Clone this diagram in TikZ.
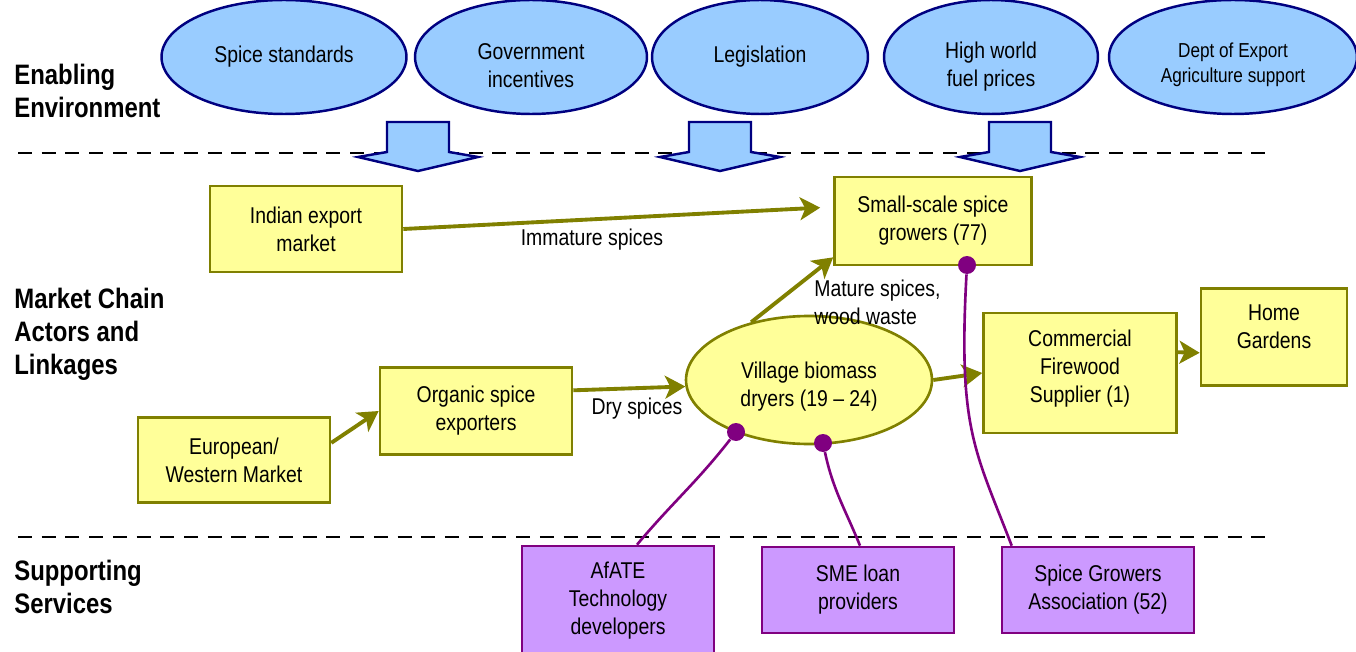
\documentclass[tikz,border=0pt]{standalone}
\usepackage{fontspec}
\setmainfont{Liberation Sans}[FakeStretch=0.85]
\usetikzlibrary{shapes.geometric, arrows.meta, positioning, calc}
\definecolor{envblue}{HTML}{99CCFF}
\definecolor{envnavy}{HTML}{000080}
\definecolor{actyellow}{HTML}{FFFF99}
\definecolor{actolive}{HTML}{808000}
\definecolor{svcpurple}{HTML}{CC99FF}
\definecolor{svcline}{HTML}{800080}
\newcommand{\shiftedlines}[2]{\raisebox{#1}[\height][\depth]{\begin{tabular}{@{}c@{}}#2\end{tabular}}}

\begin{document}
\begin{tikzpicture}[
    x=0.02cm, y=-0.02cm,
    font=\fontsize{13}{15.9}\selectfont,
    env/.style={ellipse, draw=envnavy, line width=1.4pt, fill=envblue, minimum height=2.28cm, inner sep=0pt, align=center},
    actor/.style={rectangle, draw=actolive, line width=1.5pt, fill=actyellow, minimum width=3.84cm, minimum height=1.72cm, align=center},
    service/.style={rectangle, draw=svcline, line width=1.5pt, fill=svcpurple, minimum width=3.84cm, minimum height=1.72cm, align=center},
    tier/.style={font=\fontsize{16}{18.7}\selectfont\bfseries, align=left, anchor=west, inner sep=0pt},
    flow/.style={draw=actolive, line width=2.2pt, -{Stealth[length=11.5pt, width=13pt, inset=3pt]}},
    link/.style={draw=svcline, line width=1.5pt},
    dot/.style={circle, fill=svcline, minimum size=0.36cm, inner sep=0pt},
    downarrow/.style={draw=envnavy, line width=1.4pt, fill=envblue, line join=miter},
    divider/.style={dash pattern=on 8pt off 5.5pt, line width=1.5pt}
]
    \useasboundingbox (0,0) rectangle (1356,652);

    \draw [divider] (18,153) -- (1268,153);
    \draw [divider] (18,537) -- (1268,537);

    \foreach \cx in {418,720,1020}
        \draw [downarrow] (\cx-31,122) -- (\cx+31,122) -- (\cx+31,152) -- (\cx+60,157)
            -- (\cx,171) -- (\cx-60,157) -- (\cx-31,152) -- cycle;

    \node [tier] (enabling) at (14,91) {Enabling\\Environment};
    \node [tier] (market) at (14,334) {Market Chain\\Actors and\\Linkages};
    \node [tier] (supporting) at (14,587) {Supporting\\Services};

    \node [env, minimum width=4.9cm] (standards) at (284,57) {Spice standards};
    \node [env, minimum width=4.64cm] (incentives) at (531,57) {\shiftedlines{-0.22cm}{Government\\incentives}};
    \node [env, minimum width=4.32cm] (legislation) at (760,57) {Legislation};
    \node [env, minimum width=4.28cm] (fuel) at (991,57) {\shiftedlines{-0.2cm}{High world\\fuel prices}};
    \node [env, minimum width=4.96cm, font=\fontsize{11.5}{14.2}\selectfont] (dept) at (1233,57) {\shiftedlines{-0.16cm}{Dept of Export\\Agriculture support}};

    \node [actor] (indian) at (306,229) {Indian export\\market};
    \node [actor, minimum width=3.94cm, minimum height=1.76cm] (growers) at (933,221) {Small-scale spice\\growers (77)};
    \node [actor, minimum height=1.74cm] (organic) at (476,411) {Organic spice\\exporters};
    \node [actor, minimum height=1.7cm] (european) at (234,460) {European/\\Western Market};
    \node [ellipse, draw=actolive, line width=1.5pt, fill=actyellow, minimum width=4.92cm, minimum height=2.56cm, align=center, inner sep=0pt] (village) at (809,380) {\shiftedlines{-0.14cm}{Village biomass\\dryers (19 -- 24)}};
    \node [actor, minimum width=3.86cm, minimum height=2.4cm] (firewood) at (1080,373) {\shiftedlines{0.08cm}{Commercial\\Firewood\\Supplier (1)}};
    \node [actor, minimum width=2.92cm, minimum height=1.94cm] (gardens) at (1274,337) {\shiftedlines{0.16cm}{Home\\Gardens}};

    \node [service, minimum height=2.2cm] (afate) at (618,601) {AfATE\\Technology\\developers};
    \node [service] (sme) at (858,590) {SME loan\\providers};
    \node [service] (sga) at (1098,590) {Spice Growers\\Association (52)};

    \draw [flow, shorten >=0.26cm] (indian.east) -- (growers.172);
    \draw [flow] (village.135) -- (growers.200);
    \draw [flow] (european.10) -- (organic.west);
    \draw [flow] (organic.12) -- (village.183);
    \draw [flow] (village.east) -- (firewood.west);
    \draw [flow] (firewood.12) -- (gardens.192);

    \node (immature) at (592,240) {Immature spices};
    \node [anchor=west, inner sep=0pt, align=left] (mature) at (814,302) {Mature spices,\\wood waste};
    \node (dry) at (637,409) {Dry spices};

    \node [dot] (d1) at (736,432) {};
    \node [dot] (d2) at (823,443) {};
    \node [dot] (d3) at (967,265) {};

    \draw [link] (d1) to[out=-128, in=50] ([xshift=0.38cm]afate.north);
    \draw [link] (d2) to[out=-78, in=112] ([xshift=0.04cm]sme.north);
    \draw [link] (d3) .. controls (958,430) and (975,450) .. ([xshift=0.22cm]sga.north west);
\end{tikzpicture}
\end{document}
